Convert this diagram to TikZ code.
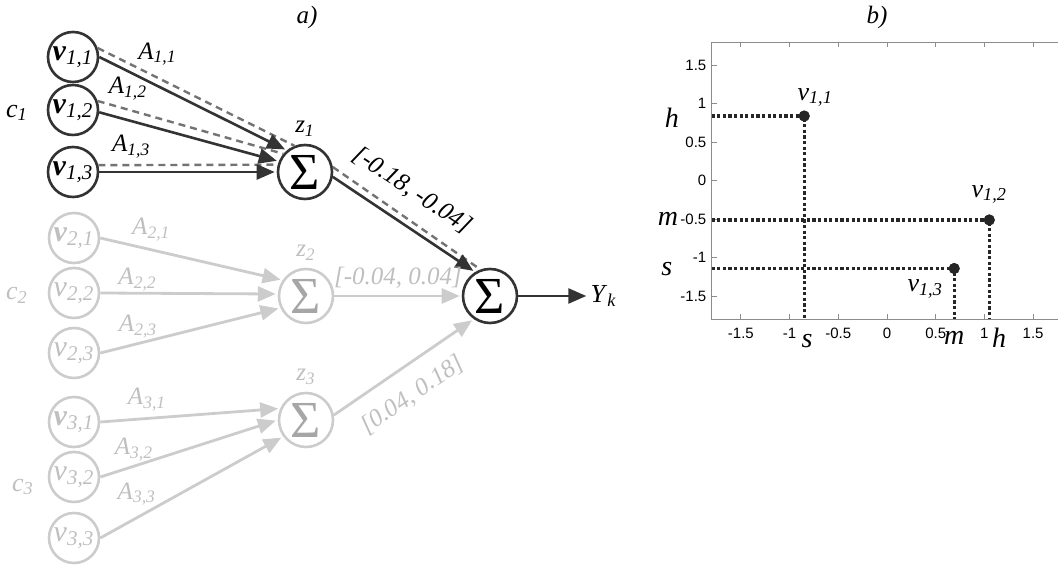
\documentclass[tikz,border=0pt]{standalone}
\usepackage{fontspec}
\setmainfont{Liberation Serif}
\setsansfont{Liberation Sans}
\usetikzlibrary{positioning,arrows.meta}

\colorlet{dk}{black!80}
\colorlet{dsh}{black!55}
\colorlet{lt}{black!20}
\colorlet{ltt}{black!25}
\colorlet{lts}{black!35}

\newcommand{\isub}[2]{\textit{#1}\textsubscript{\textit{#2}}}
\newcommand{\bsub}[2]{\textbf{\textit{#1}}\textsubscript{\textit{#2}}}

\begin{document}
\begin{tikzpicture}[x=0.5pt, y=-0.5pt,
  inp/.style={circle, draw=dk, line width=1.3pt, minimum size=25pt, inner sep=0pt, font=\fontsize{15}{16}\selectfont},
  inpf/.style={inp, draw=lt, text=ltt},
  sig/.style={circle, draw=dk, line width=1.3pt, minimum size=27pt, inner sep=0pt, font=\fontsize{26}{26}\selectfont},
  sigf/.style={sig, draw=lt, text=lts},
  lab/.style={inner sep=1pt, font=\fontsize{12.5}{14}\selectfont},
  labf/.style={lab, text=ltt},
  wt/.style={draw=dk, line width=1.3pt, -{Triangle[length=9pt,width=7.5pt]}, shorten >=1pt},
  wtf/.style={wt, draw=lt, line width=1.4pt},
  alt/.style={draw=dsh, line width=1.2pt, dash pattern=on 3.5pt off 2.5pt},
  axis/.style={draw=black!45, line width=0.5pt},
  tck/.style={inner sep=1pt, font=\sffamily\fontsize{7.5}{8}\selectfont},
  dotl/.style={draw=black!85, line width=1.6pt, dash pattern=on 1.6pt off 1.2pt},
  dat/.style={circle, fill=black!85, minimum size=5.5pt, inner sep=0pt},
  plab/.style={inner sep=1pt, font=\fontsize{13}{14}\selectfont},
  alab/.style={inner sep=1pt, font=\fontsize{14}{15}\selectfont\itshape}]

\useasboundingbox (0,0) rectangle (1058,565);

% a) network
\node[lab] (ta) at (307,17) {\textit{a)}};

\node[inp] (v11) at (73,57) {\bsub{v}{1,1}};
\node[inp] (v12) at (73,110) {\bsub{v}{1,2}};
\node[inp] (v13) at (73,172) {\bsub{v}{1,3}};
\node[inpf] (v21) at (74,238) {\bsub{v}{2,1}};
\node[inpf] (v22) at (74,293) {\isub{v}{2,2}};
\node[inpf] (v23) at (74,353) {\isub{v}{2,3}};
\node[inpf] (v31) at (74,422) {\bsub{v}{3,1}};
\node[inpf] (v32) at (74,477) {\isub{v}{3,2}};
\node[inpf] (v33) at (74,538) {\isub{v}{3,3}};

\node[lab, font=\fontsize{13}{14}\selectfont] (c1) at (17,113) {\isub{c}{1}};
\node[labf, font=\fontsize{13}{14}\selectfont] (c2) at (17,295) {\isub{c}{2}};
\node[labf, font=\fontsize{13}{14}\selectfont] (c3) at (23,487) {\isub{c}{3}};

\node[sig] (z1) at (305,172) {Σ};
\node[sigf] (z2) at (306,296) {Σ};
\node[sigf] (z3) at (306,420) {Σ};
\node[sig] (out) at (490,296) {Σ};

\node[lab, above=2.5pt of z1] (z1l) {\isub{z}{1}};
\node[labf, above=2.5pt of z2] (z2l) {\isub{z}{2}};
\node[labf, above=2.5pt of z3] (z3l) {\isub{z}{3}};
\node[lab, font=\fontsize{13}{14}\selectfont, right=35pt of out] (yk) {\isub{Y}{k}};

% dashed companions of group 1
\draw[alt] (v11.20) -- (z1.112);
\draw[alt] (v12.20) -- (z1.140);
\draw[alt] (v13.15) -- (z1.165);
\draw[alt] (z1.10) -- (out.110);

\draw[wt] (v11.east) -- node[lab, pos=0.31, above=8.5pt] {\isub{A}{1,1}} (z1.130);
\draw[wt] (v12.-5) -- node[lab, pos=0.16, above=8.5pt] {\isub{A}{1,2}} (z1.158);
\draw[wt] (v13.east) -- node[lab, pos=0.18, above=5.5pt] {\isub{A}{1,3}} (z1.180);

\draw[wtf] (v21.east) -- node[labf, pos=0.28, above=2.75pt] {\isub{A}{2,1}} (z2.146);
\draw[wtf] (v22.east) -- node[labf, pos=0.21, above=-0.6pt] {\isub{A}{2,2}} (z2.176);
\draw[wtf] (v23.east) -- node[labf, pos=0.21, above=1pt] {\isub{A}{2,3}} (z2.205);

\draw[wtf] (v31.east) -- node[labf, pos=0.26, above=2pt] {\isub{A}{3,1}} (z3.156);
\draw[wtf] (v32.east) -- node[labf, pos=0.19, above=0.8pt] {\isub{A}{3,2}} (z3.180);
\draw[wtf] (v33.east) -- node[labf, pos=0.2, above=4.5pt] {\isub{A}{3,3}} (z3.216);

\draw[wt] (z1.-10) -- node[lab, sloped, pos=0.43, above=9.5pt] {\textit{[-0.18, -0.04]}} (out.122);
\draw[wtf] (z2) -- node[labf, pos=0.5, above=2pt] {\textit{[-0.04, 0.04]}} (out);
\draw[wtf] (z3.10) -- node[labf, sloped, pos=0.45, below=7pt] {\textit{[0.04, 0.18]}} (out.235);
\draw[wt] (out) -- (yk);

% b) value plot
\node[lab] (tb) at (877,17) {\textit{b)}};

\begin{scope}[shift={(887,180.7)}, x=48.7pt, y=38.5pt]
  \coordinate (yax) at (-1.8,0);
  \coordinate (xax) at (0,-1.8);
  \draw[axis] (1.76,1.8) -- (-1.8,1.8) -- (-1.8,-1.8) -- (1.76,-1.8);
  \foreach \t [count=\i] in {-1.5,-1,-0.5,0,0.5,1,1.5} {
    \draw[axis] (\t,-1.8) -- ++(0,2.5pt);
    \draw[axis] (\t,1.8) -- ++(0,-2.5pt);
    \draw[axis] (-1.8,\t) -- ++(2.5pt,0);
    \node[tck, below=3pt] (xt\i) at (\t,-1.8) {\t};
    \node[tck, left=1.5pt] (yt\i) at (-1.8,\t) {\t};
  }

  \node[dat] (p11) at (-0.85,0.84) {};
  \node[dat] (p12) at (1.05,-0.51) {};
  \node[dat] (p13) at (0.69,-1.14) {};

  \draw[dotl] (yax |- p11) -- (p11.center) -- (p11 |- xax);
  \draw[dotl] (yax |- p12) -- (p12.center) -- (p12 |- xax);
  \draw[dotl] (yax |- p13) -- (p13.center) -- (p13 |- xax);
  \node[dat] at (p11) {};
  \node[dat] at (p12) {};
  \node[dat] at (p13) {};

  \node[plab, above=0.5pt of p11, xshift=5.5pt] (p11l) {\isub{v}{1,1}};
  \node[plab, above=4pt of p12] (p12l) {\isub{v}{1,2}};
  \node[plab, below=1.5pt of p13, xshift=-14.5pt] (p13l) {\isub{v}{1,3}};

  \node[alab] (hy) at (-2.21,0.82) {h};
  \node[alab] (my) at (-2.25,-0.49) {m};
  \node[alab] (sy) at (-2.26,-1.15) {s};
  \node[alab] (sx) at (-0.82,-2.08) {s};
  \node[alab] (mx) at (0.69,-2.04) {m};
  \node[alab] (hx) at (1.15,-2.04) {h};
\end{scope}
\end{tikzpicture}
\end{document}
